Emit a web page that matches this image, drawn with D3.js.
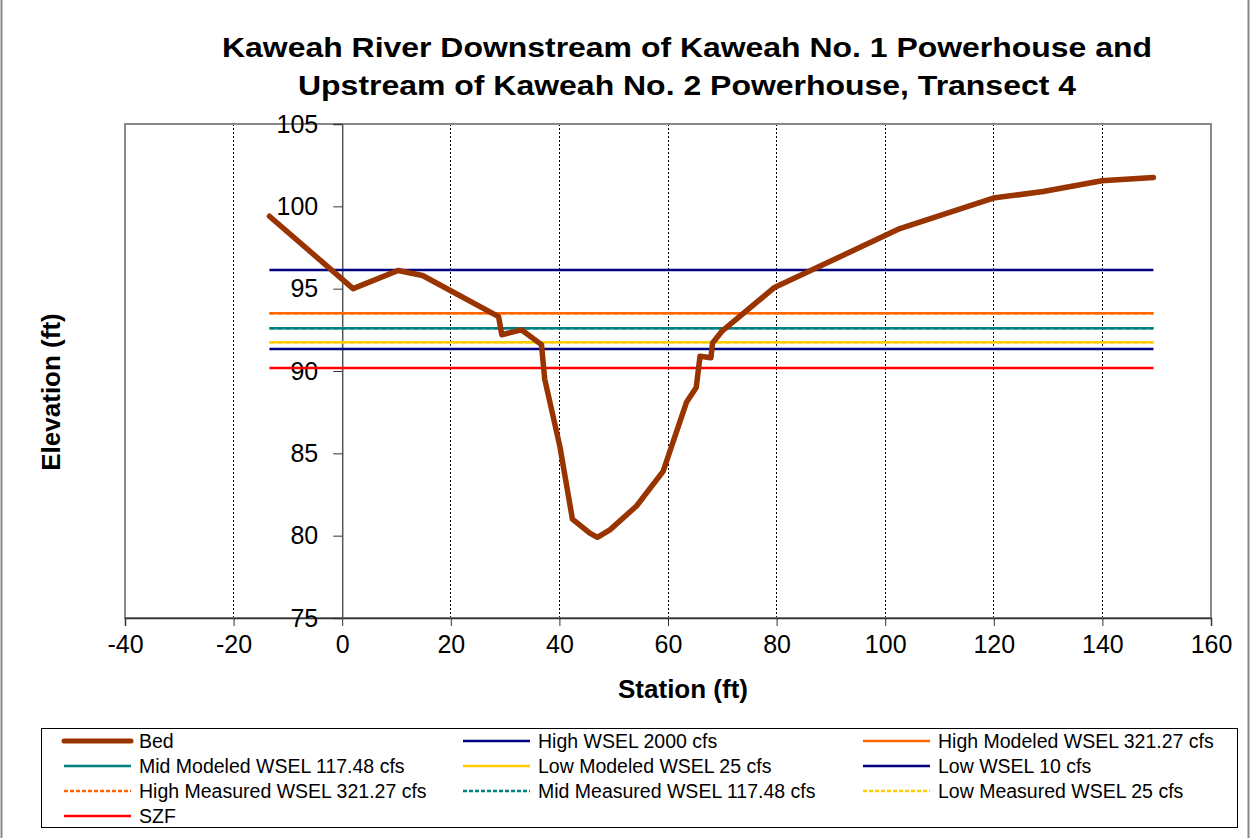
<!DOCTYPE html>
<html><head><meta charset="utf-8">
<script src="https://cdn.jsdelivr.net/npm/d3@7"></script>
<style>body{margin:0;background:#fff;}svg{display:block;font-family:"Liberation Sans",Arial,sans-serif;}</style>
</head><body><svg id="c" width="1250" height="838"></svg>
<script>
const titleLines = ["Kaweah River Downstream of Kaweah No. 1 Powerhouse and", "Upstream of Kaweah No. 2 Powerhouse, Transect 4"];
const xTicks = [-40, -20, 0, 20, 40, 60, 80, 100, 120, 140, 160];
const yTicks = [75, 80, 85, 90, 95, 100, 105];
const bedStation = [-13.4, 2.0, 10.3, 14.8, 28.8, 29.4, 33.0, 36.7, 37.3, 40.1, 42.4, 45.6, 47.0, 49.3, 54.2, 59.1, 63.4, 65.2, 65.9, 67.9, 68.2, 69.9, 79.5, 102.7, 119.9, 129.1, 139.9, 149.4];
const bedElev = [99.4, 95.0, 96.1, 95.8, 93.3, 92.2, 92.5, 91.6, 89.5, 85.4, 81.0, 80.15, 79.9, 80.35, 81.8, 83.9, 88.1, 89.0, 90.9, 90.8, 91.7, 92.4, 95.05, 98.65, 100.5, 100.9, 101.55, 101.75];
const wselNames = ["High WSEL 2000 cfs", "High Modeled WSEL 321.27 cfs", "Mid Modeled WSEL 117.48 cfs", "Low Modeled WSEL 25 cfs", "Low WSEL 10 cfs", "High Measured WSEL 321.27 cfs", "Mid Measured WSEL 117.48 cfs", "Low Measured WSEL 25 cfs", "SZF"];
const wselValues = [96.13, 93.5, 92.6, 91.75, 91.33, 93.5, 92.6, 91.75, 90.18];
const wselColors = ["#000080", "#FF6600", "#008080", "#FFCC00", "#000080", "#FF6600", "#008080", "#FFCC00", "#FF0000"];
const wselDashed = [false, false, false, false, false, true, true, true, false];
const legendOrder = ["Bed", "High WSEL 2000 cfs", "High Modeled WSEL 321.27 cfs", "Mid Modeled WSEL 117.48 cfs", "Low Modeled WSEL 25 cfs", "Low WSEL 10 cfs", "High Measured WSEL 321.27 cfs", "Mid Measured WSEL 117.48 cfs", "Low Measured WSEL 25 cfs", "SZF"];
const bedColor = "#993300";

const svg = d3.select("#c");
const L = 125, R = 1211, T = 124, B = 618;
const x = d3.scaleLinear().domain([-40, 160]).range([L, R]);
const y = d3.scaleLinear().domain([75, 105]).range([B, T]);

// outer chart edges
svg.append("line").attr("x1", 1.5).attr("x2", 1.5).attr("y1", 0).attr("y2", 838).attr("stroke", "#888").attr("stroke-width", 2);
svg.append("line").attr("x1", 1248.5).attr("x2", 1248.5).attr("y1", 0).attr("y2", 838).attr("stroke", "#888").attr("stroke-width", 2);

// title
titleLines.forEach((t, i) => {
  svg.append("text").attr("x", 687).attr("y", i === 0 ? 57 : 95).attr("text-anchor", "middle")
    .attr("font-size", 28).attr("font-weight", "bold")
    .attr("textLength", i === 0 ? 930 : 778).attr("lengthAdjust", "spacingAndGlyphs").text(t);
});

// gridlines
svg.append("g").selectAll("line").data(xTicks.filter(v => v !== -40 && v !== 0 && v !== 160)).join("line")
  .attr("x1", d => x(d)).attr("x2", d => x(d)).attr("y1", T).attr("y2", B)
  .attr("stroke", "#000").attr("stroke-width", 1).attr("stroke-dasharray", "2,2").attr("shape-rendering", "crispEdges");

// plot frame
svg.append("rect").attr("x", L).attr("y", T).attr("width", R - L).attr("height", B - T)
  .attr("fill", "none").attr("stroke", "#888").attr("stroke-width", 2);

// x axis
const xAxis = d3.axisBottom(x).tickValues(xTicks).tickSize(8).tickPadding(6).tickFormat(d => String(d));
const gx = svg.append("g").attr("transform", `translate(0,${B})`).call(xAxis);
gx.select(".domain").attr("stroke", "#333").attr("stroke-width", 1.5);
gx.selectAll(".tick line").attr("stroke", "#333");
gx.selectAll(".tick text").attr("font-size", 25).attr("fill", "#000").attr("font-family", "Liberation Sans, Arial, sans-serif").attr("dy", "0.85em");

// y axis at x = 0
const yAxis = d3.axisLeft(y).tickValues(yTicks).tickSize(9).tickPadding(15).tickFormat(d => String(d));
const gy = svg.append("g").attr("transform", `translate(${x(0)},0)`).call(yAxis);
gy.select(".domain").attr("stroke", "#555").attr("stroke-width", 1.5);
gy.selectAll(".tick line").attr("stroke", "#333");
gy.selectAll(".tick text").attr("font-size", 25).attr("fill", "#000").attr("font-family", "Liberation Sans, Arial, sans-serif");

// axis titles
svg.append("text").attr("x", 683).attr("y", 698).attr("text-anchor", "middle").attr("font-size", 26).attr("font-weight", "bold").text("Station (ft)");
svg.append("text").attr("transform", "translate(60,392) rotate(-90)").attr("text-anchor", "middle").attr("font-size", 26).attr("font-weight", "bold").text("Elevation (ft)");

// WSEL lines
const xMin = d3.min(bedStation), xMax = d3.max(bedStation);
const wsel = wselNames.map((n, i) => ({ name: n, v: wselValues[i], c: wselColors[i], dash: wselDashed[i] }));
svg.append("g").selectAll("line").data(wsel).join("line")
  .attr("x1", x(xMin)).attr("x2", x(xMax)).attr("y1", d => y(d.v)).attr("y2", d => y(d.v))
  .attr("stroke", d => d.c).attr("stroke-width", 2.5).attr("stroke-dasharray", d => d.dash ? "5,3" : null);

// bed
const bed = bedStation.map((s, i) => [s, bedElev[i]]);
svg.append("path").datum(bed).attr("d", d3.line().x(d => x(d[0])).y(d => y(d[1])))
  .attr("fill", "none").attr("stroke", bedColor).attr("stroke-width", 5.5).attr("stroke-linejoin", "round").attr("stroke-linecap", "round");

// legend
svg.append("rect").attr("x", 41.5).attr("y", 728.5).attr("width", 1196).attr("height", 99).attr("fill", "#fff").attr("stroke", "#000").attr("stroke-width", 1);
const colX = [64, 463, 863];
const rowY = [741, 766, 791, 816];
const legendItems = legendOrder.map((n, i) => {
  if (n === "Bed") return { name: n, c: bedColor, w: 5, dash: false };
  const k = wselNames.indexOf(n);
  return { name: n, c: wselColors[k], w: 2.5, dash: wselDashed[k] };
});
const lg = svg.append("g").selectAll("g").data(legendItems).join("g")
  .attr("transform", (d, i) => `translate(${colX[i % 3]},${rowY[Math.floor(i / 3)]})`);
lg.append("line").attr("x1", 0).attr("x2", 67).attr("y1", 0).attr("y2", 0)
  .attr("stroke", d => d.c).attr("stroke-width", d => d.w).attr("stroke-dasharray", d => d.dash ? "4,2" : null)
  .attr("stroke-linecap", d => d.name === "Bed" ? "round" : "butt");
lg.append("text").attr("x", 75).attr("y", 6.5).attr("font-size", 19.5).text(d => d.name);
</script></body></html>
